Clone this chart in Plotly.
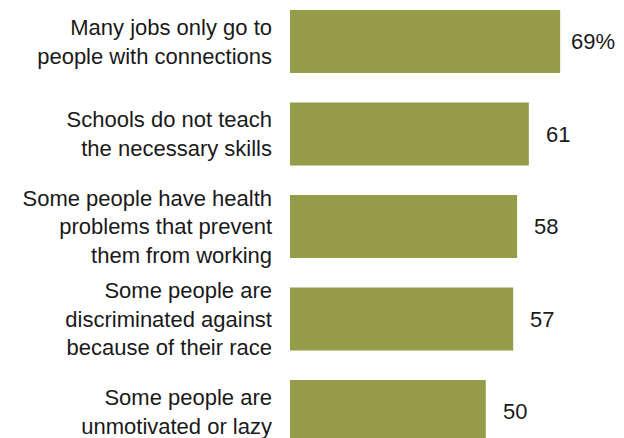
import plotly.graph_objects as go

# Reasons respondents gave, top to bottom
reasons = [
    "Many jobs only go to<br>people with connections",
    "Schools do not teach<br>the necessary skills",
    "Some people have health<br>problems that prevent<br>them from working",
    "Some people are<br>discriminated against<br>because of their race",
    "Some people are<br>unmotivated or lazy",
]
shares = [69, 61, 58, 57, 50]
value_labels = ["69%", "61", "58", "57", "50"]

BAR_COLOR = "#959D4B"
FONT = "Liberation Sans, Arial, sans-serif"

positions = list(range(len(reasons)))

fig = go.Figure(
    go.Bar(
        x=shares,
        y=positions,
        orientation="h",
        marker=dict(color=BAR_COLOR, line=dict(width=0)),
        width=0.68,
        hoverinfo="skip",
    )
)

for pos, val, lab in zip(positions, shares, value_labels):
    fig.add_annotation(
        x=val, y=pos, text=lab, showarrow=False,
        xanchor="left", yanchor="middle",
        xshift=9 if lab.endswith("%") else 15,
        font=dict(family=FONT, size=22, color="#1a1a1a"),
    )

fig.update_layout(
    width=624, height=438,
    margin=dict(l=290, r=0, t=0, b=0),
    paper_bgcolor="white", plot_bgcolor="white",
    showlegend=False,
    xaxis=dict(range=[0, 85.3], visible=False, fixedrange=True),
    yaxis=dict(
        range=[4.286, -0.449],
        tickmode="array", tickvals=positions, ticktext=reasons,
        showgrid=False, zeroline=False, showline=False, ticks="",
        ticklabelstandoff=17,
        ticklabeloverflow="allow",
        tickfont=dict(family=FONT, size=22, color="#1a1a1a"),
        fixedrange=True,
    ),
)

fig.write_html("out.html")
